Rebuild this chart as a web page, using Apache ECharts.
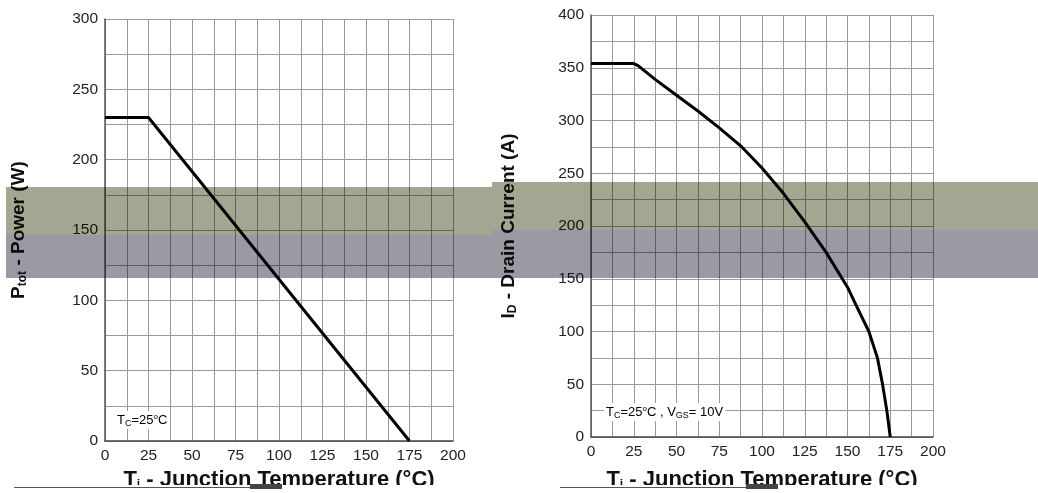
<!DOCTYPE html>
<html><head><meta charset="utf-8">
<script src="https://cdn.jsdelivr.net/npm/echarts@6/dist/echarts.min.js"></script>
<style>html,body{margin:0;padding:0;background:#fff}#c{width:1038px;height:493px}</style>
</head><body><div id="c"></div>
<script>
// ---- data ----
const tempPower = [0, 25, 175];
const power = [230, 230, 0];

const tempCurrent = [0, 25, 27.5, 37.5, 50, 62.5, 75, 87.5, 100, 112.5, 125, 137.5, 150, 155, 162.5, 167.5, 170.5, 173, 175];
const current     = [354, 354, 352, 339, 324, 309, 293, 276, 255, 231, 204, 175, 142, 125, 100, 75, 50, 25, 0];

const xTickLabels = [0, 25, 50, 75, 100, 125, 150, 175, 200];
const powerTickLabels = [0, 50, 100, 150, 200, 250, 300];
const currentTickLabels = [0, 50, 100, 150, 200, 250, 300, 350, 400];

const FONT = '"Liberation Sans", Arial, sans-serif';

function xAxisCfg(gi, labelMargin, nameGap) {
  return {
    type: 'value', gridIndex: gi, min: 0, max: 200, interval: 12.5,
    axisLine: { show: true, onZero: false, lineStyle: { color: '#444', width: 1.5 } },
    axisTick: { show: false },
    splitLine: { show: true, lineStyle: { color: '#999', width: 1 } },
    axisLabel: { formatter: v => xTickLabels.includes(v) ? String(v) : '', color: '#222', fontSize: 15.5, margin: labelMargin, fontFamily: FONT },
    name: '{a|T}{b|j}{a| - Junction Temperature (°C)}',
    nameLocation: 'middle', nameGap: nameGap,
    nameTextStyle: { rich: {
      a: { fontSize: 22, fontWeight: 'bold', color: '#111', fontFamily: FONT },
      b: { fontSize: 12, fontWeight: 'bold', color: '#111', fontFamily: FONT, padding: [10, 0, 0, 0] }
    } }
  };
}
function yAxisCfg(gi, max, ticks, name, gap) {
  return {
    type: 'value', gridIndex: gi, min: 0, max: max, interval: 25,
    axisLine: { show: true, onZero: false, lineStyle: { color: '#555', width: 1.5 } },
    axisTick: { show: false },
    splitLine: { show: true, lineStyle: { color: '#999', width: 1 } },
    axisLabel: { formatter: v => ticks.includes(v) ? String(v) : '', color: '#222', fontSize: 15.5, margin: 7, fontFamily: FONT },
    name: name, nameLocation: 'middle', nameGap: gap, nameRotate: 90,
    nameTextStyle: { rich: {
      a: { fontSize: 19, fontWeight: 'bold', color: '#111', fontFamily: FONT },
      b: { fontSize: 12, fontWeight: 'bold', color: '#111', fontFamily: FONT, padding: [9, 0, 0, 0] }
    } }
  };
}

const chart = echarts.init(document.getElementById('c'), null, { renderer: 'canvas' });

const annRich = {
  n: { fontSize: 13, color: '#222', fontFamily: FONT },
  s: { fontSize: 9, color: '#222', fontFamily: FONT, padding: [7, 0, 0, 0] },
  p: { fontSize: 8, color: '#222', fontFamily: FONT, padding: [0, 0, 7, 0] }
};

chart.setOption({
  animation: false,
  backgroundColor: '#fff',
  grid: [
    { left: 105, top: 19, width: 348, height: 422, outerBoundsMode: 'none', containLabel: false },
    { left: 591, top: 15, width: 342, height: 422, outerBoundsMode: 'none', containLabel: false }
  ],
  xAxis: [xAxisCfg(0, 7, 28), xAxisCfg(1, 7, 32)],
  yAxis: [
    yAxisCfg(0, 300, powerTickLabels, '{a|P}{b|tot}{a| - Power (W)}', 76),
    yAxisCfg(1, 400, currentTickLabels, '{a|I}{b|D}{a| - Drain Current (A)}', 72)
  ],
  series: [
    { type: 'line', xAxisIndex: 0, yAxisIndex: 0, showSymbol: false, z: 5,
      lineStyle: { color: '#000', width: 3 }, data: tempPower.map((t, i) => [t, power[i]]) },
    { type: 'line', xAxisIndex: 1, yAxisIndex: 1, showSymbol: false, z: 5,
      lineStyle: { color: '#000', width: 3 }, data: tempCurrent.map((t, i) => [t, current[i]]) }
  ],
  graphic: [
    { type: 'text', left: 115, top: 411, z: 20,
      style: { text: '{n|T}{s|C}{n|=25}{p|o}{n|C}', rich: annRich, backgroundColor: '#fff', padding: [1, 2] } },
    { type: 'text', left: 604, top: 403, z: 20,
      style: { text: '{n|T}{s|C}{n|=25}{p|o}{n|C , V}{s|GS}{n|= 10V}', rich: annRich, backgroundColor: '#fff', padding: [1, 2] } },
    // scan artefact bands
    { type: 'rect', z: 100, shape: { x: 6, y: 187, width: 486, height: 48 }, style: { fill: '#a3a791', blend: 'multiply' } },
    { type: 'rect', z: 100, shape: { x: 492, y: 182, width: 546, height: 48 }, style: { fill: '#a3a791', blend: 'multiply' } },
    { type: 'rect', z: 100, shape: { x: 6, y: 235, width: 486, height: 43 }, style: { fill: '#9b99a4', blend: 'multiply' } },
    { type: 'rect', z: 100, shape: { x: 492, y: 230, width: 546, height: 48 }, style: { fill: '#9b99a4', blend: 'multiply' } },
    // cut-off bottom strip
    { type: 'rect', z: 100, shape: { x: 0, y: 485, width: 1038, height: 8 }, style: { fill: '#fff' } },
    { type: 'line', z: 101, shape: { x1: 14, y1: 487.5, x2: 250, y2: 487.5 }, style: { stroke: '#555', lineWidth: 1 } },
    { type: 'line', z: 101, shape: { x1: 560, y1: 487.5, x2: 746, y2: 487.5 }, style: { stroke: '#555', lineWidth: 1 } },
    { type: 'rect', z: 101, shape: { x: 250, y: 484, width: 32, height: 5 }, style: { fill: '#444' } },
    { type: 'rect', z: 101, shape: { x: 746, y: 484, width: 32, height: 5 }, style: { fill: '#444' } }
  ]
});
</script></body></html>
